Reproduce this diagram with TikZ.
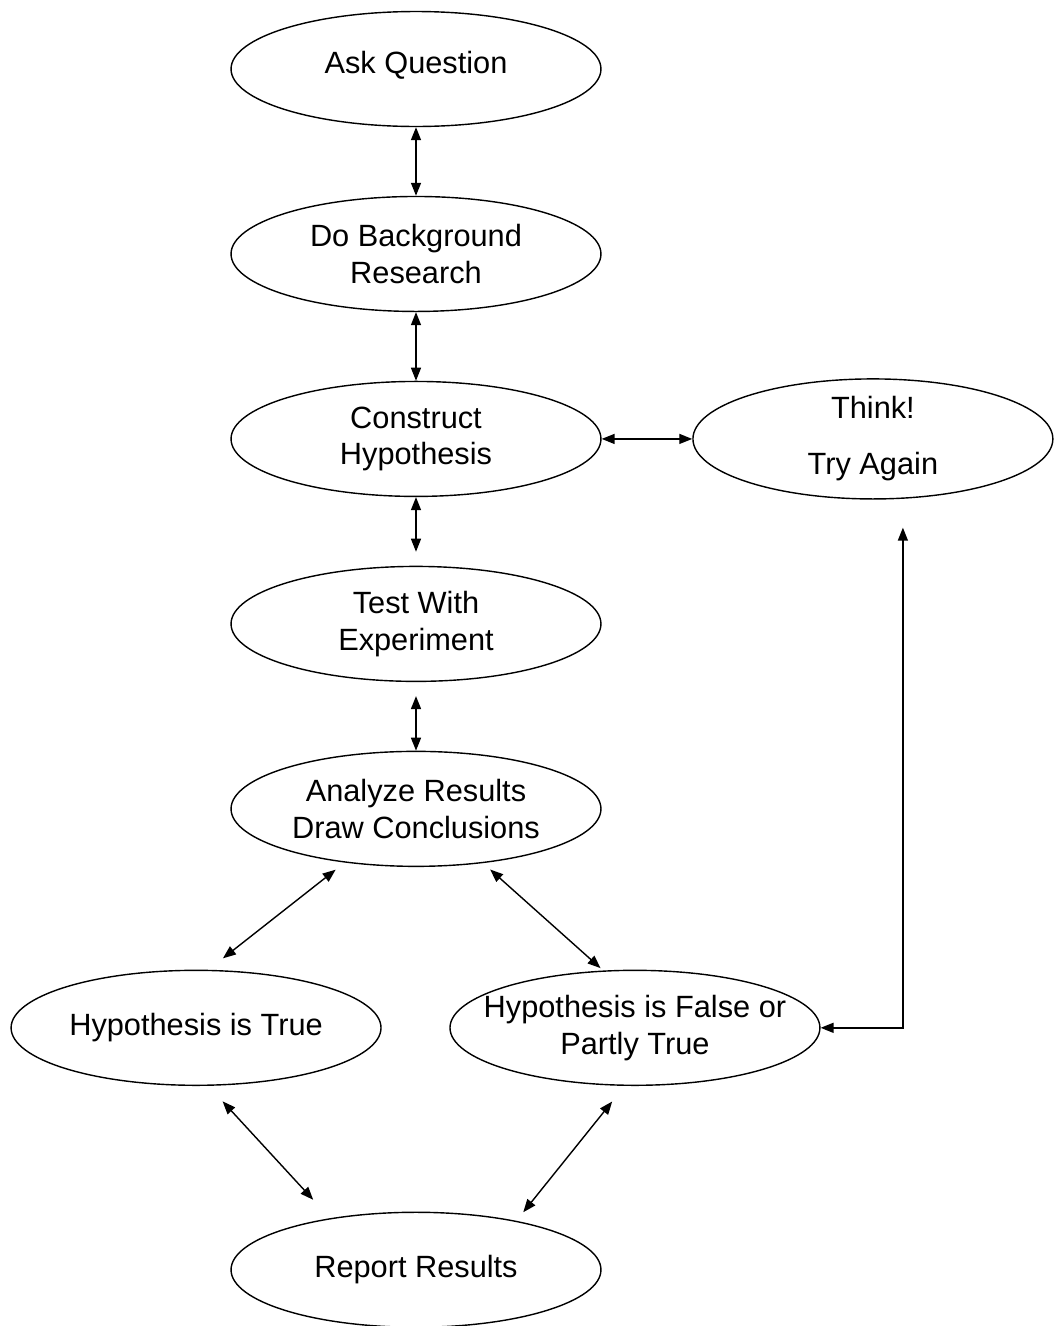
\documentclass[tikz,border=0pt]{standalone}
\usepackage{fontspec}
\setmainfont{Liberation Sans}
\usetikzlibrary{arrows.meta,shapes.geometric,positioning}

\begin{document}
\begin{tikzpicture}[x=0.02cm,y=-0.02cm,node distance=3.7cm,>={Triangle[length=0.26cm,width=0.2cm]},line width=0.8pt]

	\tikzstyle{stage} = [ellipse, draw=black, minimum width=7.4cm, minimum height=2.3cm, inner xsep=-1cm, inner ysep=0pt, align=center, font=\fontsize{17.5}{21}\selectfont]
	\tikzstyle{both}  = [<->]

	\useasboundingbox (0,0) rectangle (1055,1326);

	\node [stage] (ask) at (416,69) {\raisebox{0.28cm}{Ask Question}};

	\node [stage] (research) [below of=ask] {Do Background\\Research}
	edge [both]                 (ask);

	\node [stage] (hyp) [below of=research] {Construct\\Hypothesis}
	edge [both]                 (research);

	\node [stage, minimum width=7.2cm] (think) [right of=hyp, xshift=5.44cm] {Think!\\[11pt]Try Again}
	edge [both]                 (hyp);

	\node [stage] (test) [below of=hyp] {Test With\\Experiment}
	edge [both, shorten <=0.28cm] (hyp);

	\node [stage] (analyze) [below of=test] {Analyze Results\\Draw Conclusions}
	edge [both, shorten >=0.28cm] (test);

	\node [stage] (true) [below of=analyze, xshift=-4.4cm, yshift=-0.68cm] {Hypothesis is True};
	\node [stage] (false) [below of=analyze, xshift=4.38cm, yshift=-0.68cm] {Hypothesis is False or\\Partly True};
	\node [stage] (report) [below of=analyze, yshift=-5.52cm] {Report Results};

	% diagonal links stop short of the ellipses
	\draw [both, shorten <=0.23cm, shorten >=0.37cm] (analyze.-143.7) -- (true.78.8);
	\draw [both, shorten <=0.19cm, shorten >=0.07cm] (analyze.-39.6) -- (false.119.7);
	\draw [both, shorten <=0.42cm, shorten >=0.5cm]  (true.-78.2) -- (report.149.9);
	\draw [both, shorten <=0.4cm, shorten >=0.22cm]  (false.-100.4) -- (report.26.1);

	% back to the start
	\draw [both] (false.east) -| ([xshift=0.6cm, yshift=-0.56cm]think.south);

\end{tikzpicture}
\end{document}
